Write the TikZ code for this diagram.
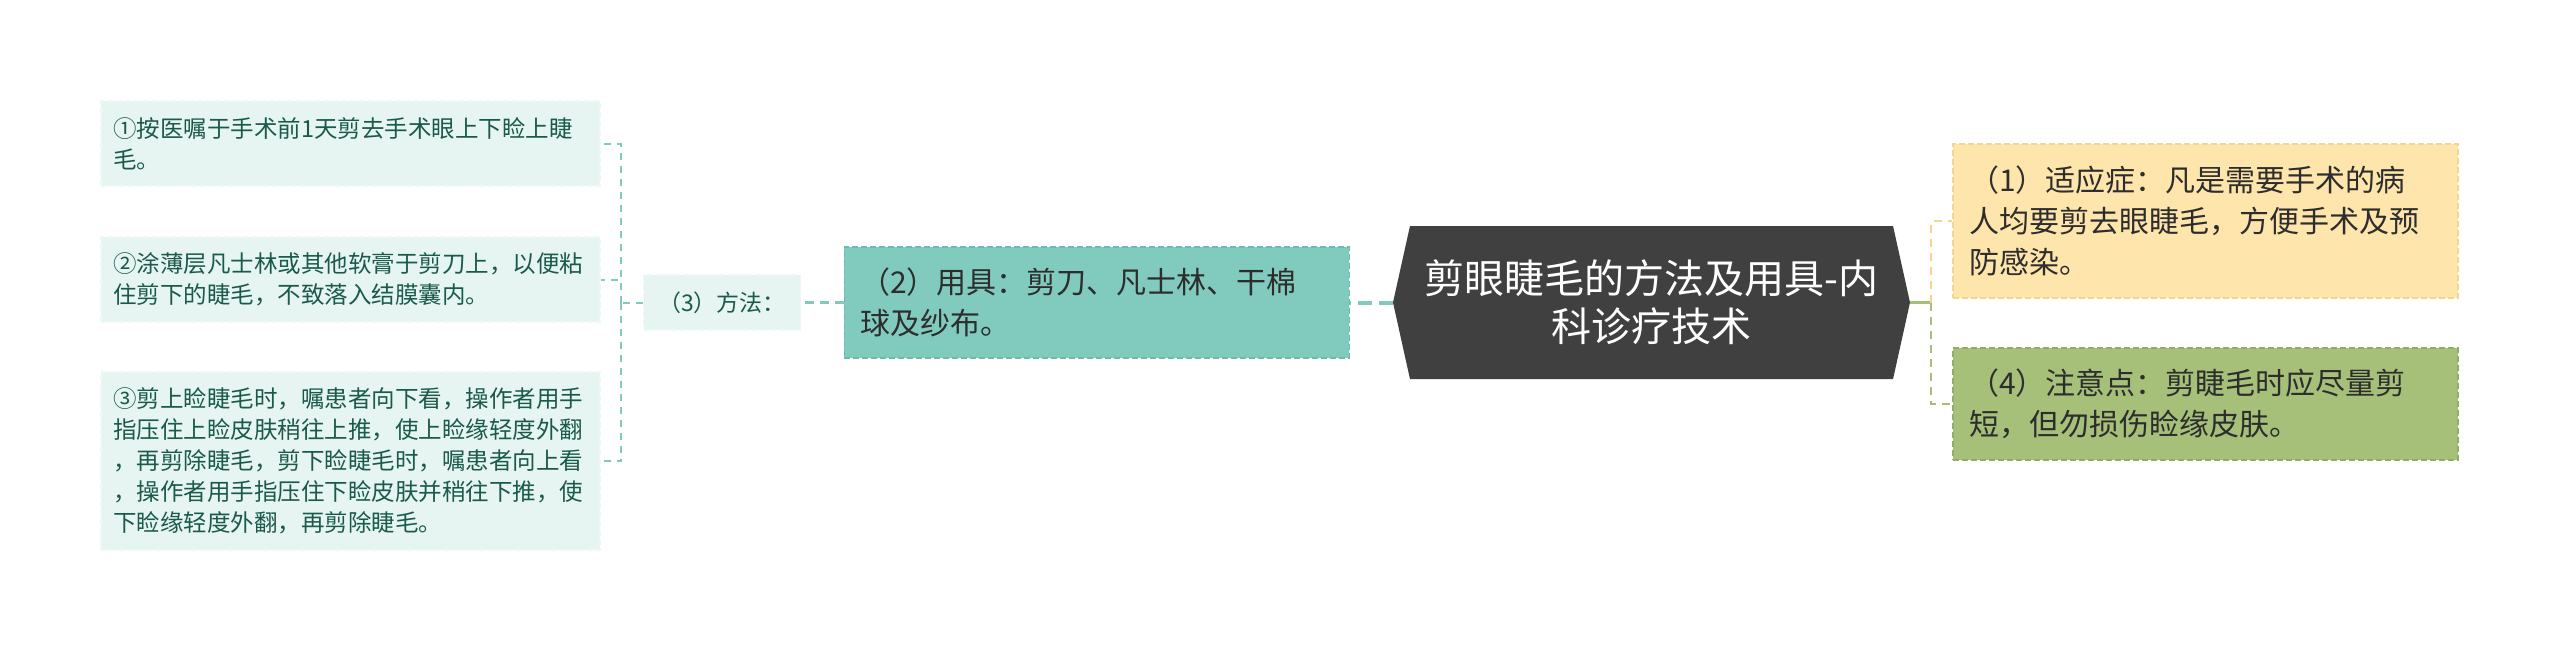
\documentclass[tikz,border=0pt]{standalone}
\usepackage{fontspec}
\newfontfamily\cjk{Noto Sans CJK SC}
\usepackage{xcolor}
\definecolor{darkgrey}{RGB}{64,64,64}
\definecolor{mytext}{RGB}{45,45,45}
\definecolor{myteal}{RGB}{128,202,190}
\definecolor{mytealline}{RGB}{108,188,174}
\definecolor{mymint}{RGB}{230,245,241}
\definecolor{mymintline}{RGB}{238,249,246}
\definecolor{mydarkteal}{RGB}{26,90,76}
\definecolor{myyellow}{RGB}{254,229,172}
\definecolor{myyellowline}{RGB}{246,214,140}
\definecolor{mygreen}{RGB}{166,191,121}
\definecolor{mygreenline}{RGB}{146,174,100}
\usepackage{tikz}
\usetikzlibrary{shapes.symbols}
\newcommand{\widthbox}{473pt}
\newcommand{\widthleaf}{475pt}
\tikzset{
    common/.style={draw, rectangle, dash pattern=on 6pt off 3pt, line width=1.5pt, align=left, inner ysep=0pt},
    box/.style={common, text width=\widthbox, inner xsep=16pt, text=mytext, font=\cjk\fontsize{30pt}{41pt}\selectfont},
    leaf/.style={common, text width=\widthleaf, inner xsep=12pt, fill=mymint, draw=mymintline, text=mydarkteal, font=\cjk\fontsize{23.5pt}{31pt}\selectfont},
    method/.style={common, fill=mymint, draw=mymintline, text=mydarkteal, minimum width=157pt, minimum height=55pt, inner xsep=0pt, font=\cjk\fontsize{23pt}{27pt}\selectfont},
    root/.style={signal, signal to=east and west, signal pointer angle=155, fill=darkgrey, text=white, align=center, minimum width=517pt, minimum height=153pt, inner sep=0pt, font=\cjk\fontsize{40pt}{48pt}\selectfont},
    link-left/.style={myteal, dash pattern=on 14pt off 7pt, line width=4pt},
    link-method/.style={myteal, dash pattern=on 9pt off 6pt, line width=2.5pt},
    link-leaf/.style={myteal, dash pattern=on 7pt off 6pt, line width=2pt},
    link-sym/.style={myyellowline, dash pattern=on 8pt off 6pt, line width=2.5pt},
    link-note/.style={mygreen, dash pattern=on 8pt off 6pt, line width=2.5pt}
}
\begin{document}
\begin{tikzpicture}[x=1pt, y=-1pt]
    \useasboundingbox (0,0) rectangle (2560,651);

    \path
        node[root] (title) at (1651.5,302.5) {剪眼睫毛的方法及用具-内\\科诊疗技术}
        node[box, fill=myteal, draw=mytealline, minimum height=111pt] (tools) at (1096.75,302.5) {（2）用具：剪刀、凡士林、干棉\\球及纱布。}
        node[method] (method) at (722,302.5) {（3）方法：}
        node[leaf, minimum height=85pt] (leaf1) at (350.5,143.5) {①按医嘱于手术前1天剪去手术眼上下睑上睫\\毛。}
        node[leaf, minimum height=85pt] (leaf2) at (350.5,279.5) {②涂薄层凡士林或其他软膏于剪刀上，以便粘\\住剪下的睫毛，不致落入结膜囊内。}
        node[leaf, minimum height=178pt] (leaf3) at (350.5,461) {③剪上睑睫毛时，嘱患者向下看，操作者用手\\指压住上睑皮肤稍往上推，使上睑缘轻度外翻\\，再剪除睫毛，剪下睑睫毛时，嘱患者向上看\\，操作者用手指压住下睑皮肤并稍往下推，使\\下睑缘轻度外翻，再剪除睫毛。}
        node[box, fill=myyellow, draw=myyellowline, minimum height=154pt] (sym) at (2205.5,221) {（1）适应症：凡是需要手术的病\\人均要剪去眼睫毛，方便手术及预\\防感染。}
        node[box, fill=mygreen, draw=mygreenline, minimum height=112pt] (note) at (2205.5,404) {（4）注意点：剪睫毛时应尽量剪\\短，但勿损伤睑缘皮肤。};

    \coordinate (lb) at (621,302.5);
    \coordinate (rb) at (1931,302.5);

    \draw[link-left] (title.west) -- (tools.east);
    \draw[link-method] (tools.west) -- (method.east);
    \draw[link-leaf] (method.west) -- (lb);
    \foreach \n in {leaf1,leaf2,leaf3}
        \draw[link-leaf] (lb) |- (\n.east);

    \draw[mygreen, line width=3pt] (title.east) -- (rb);
    \draw[link-sym] (rb) |- (sym.west);
    \draw[link-note] (rb) |- (note.west);
\end{tikzpicture}
\end{document}
